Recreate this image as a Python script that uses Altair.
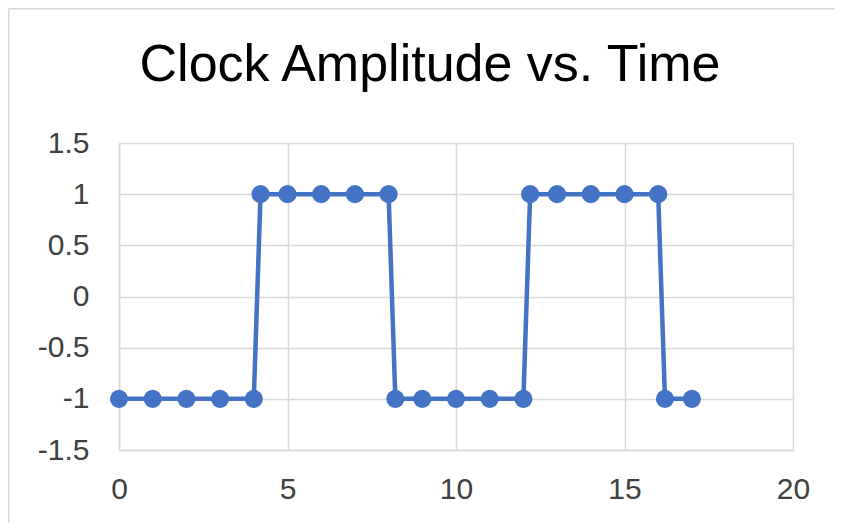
import altair as alt
import pandas as pd

time = [0, 1, 2, 3, 4, 4.2, 5, 6, 7, 8, 8.2, 9, 10, 11, 12, 12.2, 13, 14, 15, 16, 16.2, 17]
amplitude = [-1, -1, -1, -1, -1, 1, 1, 1, 1, 1, -1, -1, -1, -1, -1, 1, 1, 1, 1, 1, -1, -1]
x_ticks = [0, 5, 10, 15, 20]
y_ticks = [-1.5, -1, -0.5, 0, 0.5, 1, 1.5]

df = pd.DataFrame({"time": time, "amp": amplitude, "order": list(range(len(time)))})

BLUE = "#4472C4"
GRID = "#d9d9d9"
FONT = "Liberation Sans"

x_enc = alt.X("time:Q", scale=alt.Scale(domain=[0, 20], nice=False, zero=False),
              axis=alt.Axis(values=x_ticks, title=None, grid=True, ticks=False,
                            labelPadding=24, labelFontSize=30, labelColor="#404040",
                            labelFont=FONT, domainColor=GRID, domainWidth=1.5,
                            gridColor=GRID, gridWidth=1.5, labelFlush=False))
y_enc = alt.Y("amp:Q", scale=alt.Scale(domain=[-1.5, 1.5], nice=False, zero=False),
              axis=alt.Axis(values=y_ticks, title=None, grid=True, ticks=False,
                            labelPadding=30, labelFontSize=30, labelColor="#404040",
                            labelFont=FONT, domainColor=GRID, domainWidth=1.5,
                            gridColor=GRID, gridWidth=1.5, labelFlush=False,
                            labelExpr="datum.value"))

first = alt.Chart(df).transform_filter("datum.order == 0")
frame_top = first.mark_rule(color="#d9d9d9", strokeWidth=1.5, clip=False).encode(
    x=alt.value(-110.25), x2=alt.value(760), y=alt.value(-134.25))
frame_left = first.mark_rule(color="#d9d9d9", strokeWidth=1.5, clip=False).encode(
    x=alt.value(-110.25), y=alt.value(-134.25), y2=alt.value(420))

line = alt.Chart(df).mark_line(color=BLUE, strokeWidth=4.5).encode(
    x=x_enc, y=y_enc, order="order:Q")

points = alt.Chart(df).mark_point(filled=True, color=BLUE, size=330, opacity=1).encode(
    x="time:Q", y="amp:Q")

chart = alt.layer(line, points, frame_top, frame_left).properties(
    width=674, height=307,
    title=alt.TitleParams("Clock Amplitude vs. Time", fontSize=52, font=FONT,
                          fontWeight="normal", color="#000000", anchor="middle",
                          frame="group", dx=-26, offset=-84),
    autosize=alt.AutoSizeParams(type="none"),
    padding={"left": 111, "top": 135, "right": 42, "bottom": 73},
).configure_view(stroke=None).configure(background="white")

chart.save("out.html", embed_options={"renderer": "svg", "actions": False})
